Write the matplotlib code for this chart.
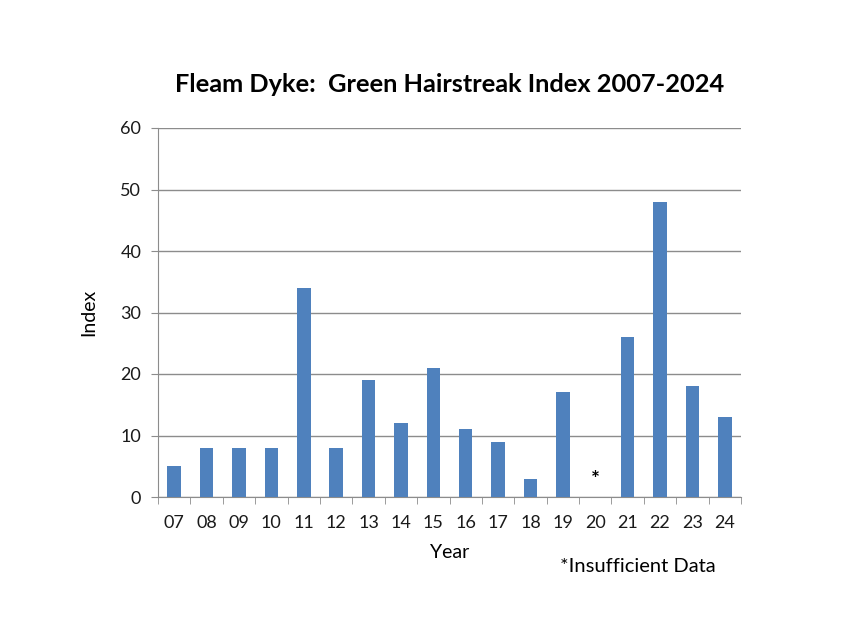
import numpy as np
import matplotlib.pyplot as plt

plt.rcParams['font.family'] = ['Lato', 'DejaVu Sans']

years = ["07", "08", "09", "10", "11", "12", "13", "14", "15", "16", "17", "18",
         "19", "20", "21", "22", "23", "24"]
index = [5, 8, 8, 8, 34, 8, 19, 12, 21, 11, 9, 3, 17, np.nan, 26, 48, 18, 13]
missing_year = "20"
missing_marker_y = 2.7

bar_color = "#4f81bd"
grid_color = "#8c8c8c"

fig = plt.figure(figsize=(8.48, 6.36), dpi=100)
ax = fig.add_axes([158 / 848, 1 - 497 / 636, (741 - 158) / 848, (497 - 128) / 636])

x = np.arange(len(years))
vals = np.array(index, dtype=float)
ax.bar(x, np.nan_to_num(vals), width=0.42, color=bar_color, zorder=3)

mi = years.index(missing_year)
ax.text(mi, missing_marker_y, "*", ha="center", va="center", fontsize=15,
        fontweight="bold", color="black")

ax.set_xlim(-0.5, len(years) - 0.5)
ax.set_ylim(0, 60)
ax.set_yticks(range(0, 61, 10))
ax.set_xticks(x)
ax.set_xticklabels(years)
ax.set_xticks(np.arange(-0.5, len(years), 1), minor=True)
ax.tick_params(axis="x", which="major", length=0, pad=13, labelsize=13, colors="#1a1a1a")
ax.tick_params(axis="x", which="minor", length=5, color=grid_color, direction="out")
ax.tick_params(axis="y", length=5, color=grid_color, pad=7, labelsize=13,
               labelcolor="#1a1a1a")

ax.grid(axis="y", color=grid_color, linewidth=1, zorder=0)
for s in ["top", "right"]:
    ax.spines[s].set_visible(False)
for s in ["left", "bottom"]:
    ax.spines[s].set_color(grid_color)

ax.set_xlabel("Year", fontsize=14, labelpad=9)
ax.set_ylabel("Index", fontsize=14, labelpad=17)
ax.set_title("Fleam Dyke:  Green Hairstreak Index 2007-2024", fontsize=18.3,
             fontweight="bold", pad=26)

fig.text(716 / 848, 1 - 567 / 636, "*Insufficient Data", ha="right", va="center",
         fontsize=14.5)

fig.savefig("out.png", dpi=100, facecolor="white")
